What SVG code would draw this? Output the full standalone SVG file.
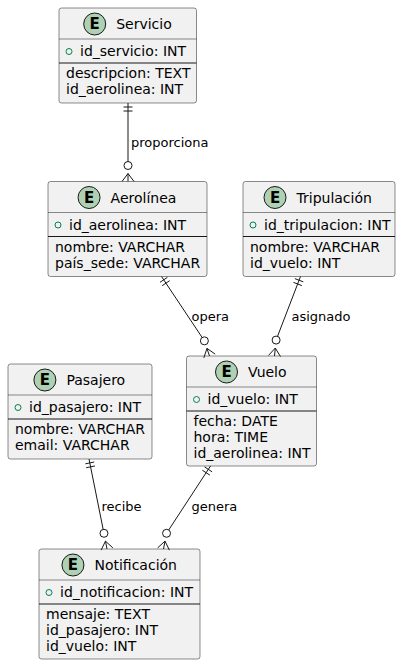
<svg xmlns="http://www.w3.org/2000/svg" width="401" height="664" viewBox="0 0 401 664">
<style>
.box{fill:#F1F1F1;stroke:#181818;stroke-width:0.5}
.ecirc{fill:#ADD1B2;stroke:#181818;stroke-width:1}
.eltr{font-family:"DejaVu Sans",sans-serif;font-size:15px;font-weight:bold;fill:#000;text-anchor:middle}
.title{font-family:"DejaVu Sans",sans-serif;font-size:14px;fill:#000}
.attr{font-family:"DejaVu Sans",sans-serif;font-size:14px;fill:#000}
.hsep{stroke:#181818;stroke-width:0.5}
.sep{stroke:#181818;stroke-width:1}
.vis{fill:none;stroke:#038048;stroke-width:1}
.lnk{stroke:#181818;stroke-width:1;fill:none}
.lbl{font-family:"DejaVu Sans",sans-serif;font-size:13px;fill:#000}
</style>
<rect width="401" height="664" fill="#FFFFFF"/>

<g id="servicio">
<rect class="box" x="59" y="8" width="137.5" height="95" rx="2.5"/>
<circle class="ecirc" cx="94.7" cy="24" r="11"/>
<text class="eltr" x="94.7" y="29.4">E</text>
<text class="title" x="116.2" y="29">Servicio</text>
<line class="hsep" x1="59" y1="39" x2="196.5" y2="39"/>
<circle class="vis" cx="69" cy="51.5" r="3"/>
<text class="attr" x="80" y="56">id_servicio: INT</text>
<line class="sep" x1="59" y1="63" x2="196.5" y2="63"/>
<text class="attr" x="66" y="78">descripcion: TEXT</text>
<text class="attr" x="66" y="94">id_aerolinea: INT</text>
</g>

<g id="aerolinea">
<rect class="box" x="48" y="181.5" width="159" height="95" rx="2.5"/>
<circle class="ecirc" cx="89.05" cy="197.5" r="11"/>
<text class="eltr" x="89.05" y="202.9">E</text>
<text class="title" x="110.55" y="202.5">Aerolínea</text>
<line class="hsep" x1="48" y1="212.5" x2="207" y2="212.5"/>
<circle class="vis" cx="58" cy="225" r="3"/>
<text class="attr" x="69" y="229.5">id_aerolinea: INT</text>
<line class="sep" x1="48" y1="236.5" x2="207" y2="236.5"/>
<text class="attr" x="55" y="251.5">nombre: VARCHAR</text>
<text class="attr" x="55" y="267.5">país_sede: VARCHAR</text>
</g>

<g id="tripulacion">
<rect class="box" x="243" y="181.5" width="152" height="95" rx="2.5"/>
<circle class="ecirc" cx="275" cy="197.5" r="11"/>
<text class="eltr" x="275" y="202.9">E</text>
<text class="title" x="296.5" y="202.5">Tripulación</text>
<line class="hsep" x1="243" y1="212.5" x2="395" y2="212.5"/>
<circle class="vis" cx="253" cy="225" r="3"/>
<text class="attr" x="264" y="229.5">id_tripulacion: INT</text>
<line class="sep" x1="243" y1="236.5" x2="395" y2="236.5"/>
<text class="attr" x="250" y="251.5">nombre: VARCHAR</text>
<text class="attr" x="250" y="267.5">id_vuelo: INT</text>
</g>

<g id="vuelo">
<rect class="box" x="186.5" y="356" width="130" height="110" rx="2.5"/>
<circle class="ecirc" cx="226.5" cy="372" r="11"/>
<text class="eltr" x="226.5" y="377.4">E</text>
<text class="title" x="248" y="377">Vuelo</text>
<line class="hsep" x1="186.5" y1="387" x2="316.5" y2="387"/>
<circle class="vis" cx="196.5" cy="399.5" r="3"/>
<text class="attr" x="207.5" y="404">id_vuelo: INT</text>
<line class="sep" x1="186.5" y1="411" x2="316.5" y2="411"/>
<text class="attr" x="193.5" y="426">fecha: DATE</text>
<text class="attr" x="193.5" y="442">hora: TIME</text>
<text class="attr" x="193.5" y="458">id_aerolinea: INT</text>
</g>

<g id="pasajero">
<rect class="box" x="8" y="364" width="144" height="95" rx="2.5"/>
<circle class="ecirc" cx="44.9" cy="380" r="11"/>
<text class="eltr" x="44.9" y="385.4">E</text>
<text class="title" x="66.4" y="385">Pasajero</text>
<line class="hsep" x1="8" y1="395" x2="152" y2="395"/>
<circle class="vis" cx="18" cy="407.5" r="3"/>
<text class="attr" x="29" y="412">id_pasajero: INT</text>
<line class="sep" x1="8" y1="419" x2="152" y2="419"/>
<text class="attr" x="15" y="434">nombre: VARCHAR</text>
<text class="attr" x="15" y="450">email: VARCHAR</text>
</g>

<g id="notificacion">
<rect class="box" x="39" y="549" width="161" height="110" rx="2.5"/>
<circle class="ecirc" cx="72.95" cy="565" r="11"/>
<text class="eltr" x="72.95" y="570.4">E</text>
<text class="title" x="94.45" y="570">Notificación</text>
<line class="hsep" x1="39" y1="580" x2="200" y2="580"/>
<circle class="vis" cx="49" cy="592.5" r="3"/>
<text class="attr" x="60" y="597">id_notificacion: INT</text>
<line class="sep" x1="39" y1="604" x2="200" y2="604"/>
<text class="attr" x="46" y="619">mensaje: TEXT</text>
<text class="attr" x="46" y="635">id_pasajero: INT</text>
<text class="attr" x="46" y="651">id_vuelo: INT</text>
</g>

<g id="connectors">
<!-- Servicio - Aerolinea -->
<g id="c-proporciona">
<line class="lnk" x1="128" y1="103" x2="128" y2="161.5"/>
<line class="lnk" x1="123.5" y1="107" x2="132.5" y2="107"/>
<line class="lnk" x1="123.5" y1="111" x2="132.5" y2="111"/>
<circle class="lnk" cx="128" cy="165.5" r="4"/>
<polyline class="lnk" points="122,181.5 128,173.5 134,181.5"/>
<line class="lnk" x1="128" y1="173.5" x2="128" y2="181.5"/>
<text class="lbl" x="131" y="147">proporciona</text>
</g>
<!-- Aerolinea - Vuelo -->
<g id="c-opera">
<line class="lnk" x1="161.5" y1="276.5" x2="202.16" y2="337.52"/>
<line class="lnk" x1="159.97" y1="282.32" x2="167.46" y2="277.33"/>
<line class="lnk" x1="162.19" y1="285.66" x2="169.68" y2="280.66"/>
<circle class="lnk" cx="204.38" cy="340.85" r="4"/>
<polyline class="lnk" points="215.18,354.08 206.94,348.42 203.82,357.92"/>
<line class="lnk" x1="206.94" y1="348.42" x2="209.5" y2="356"/>
<text class="lbl" x="191.5" y="320.5">opera</text>
</g>
<!-- Tripulacion - Vuelo -->
<g id="c-asignado">
<line class="lnk" x1="300.5" y1="276.5" x2="277.53" y2="336.35"/>
<line class="lnk" x1="294.87" y1="278.62" x2="303.27" y2="281.84"/>
<line class="lnk" x1="293.43" y1="282.36" x2="301.83" y2="285.58"/>
<circle class="lnk" cx="276.1" cy="340.08" r="4"/>
<polyline class="lnk" points="280.47,356.6 275.3,348.04 268.53,355.4"/>
<line class="lnk" x1="275.3" y1="348.04" x2="274.5" y2="356"/>
<text class="lbl" x="291.5" y="320.5">asignado</text>
</g>
<!-- Pasajero - Notificacion -->
<g id="c-recibe">
<line class="lnk" x1="89" y1="459" x2="103.17" y2="529.37"/>
<line class="lnk" x1="85.38" y1="463.81" x2="94.2" y2="462.03"/>
<line class="lnk" x1="86.17" y1="467.73" x2="94.99" y2="465.95"/>
<circle class="lnk" cx="103.96" cy="533.29" r="4"/>
<polyline class="lnk" points="112.89,547.86 105.48,541.14 101.11,550.14"/>
<line class="lnk" x1="105.48" y1="541.14" x2="107" y2="549"/>
<text class="lbl" x="101.5" y="511">recibe</text>
</g>
<!-- Vuelo - Notificacion -->
<g id="c-genera">
<line class="lnk" x1="210.5" y1="466" x2="168.73" y2="529.94"/>
<line class="lnk" x1="204.54" y1="466.89" x2="212.08" y2="471.81"/>
<line class="lnk" x1="202.36" y1="470.24" x2="209.9" y2="475.16"/>
<circle class="lnk" cx="166.54" cy="533.29" r="4"/>
<polyline class="lnk" points="169.39,550.14 165.02,541.14 157.61,547.86"/>
<line class="lnk" x1="165.02" y1="541.14" x2="163.5" y2="549"/>
<text class="lbl" x="191.5" y="511">genera</text>
</g>
</g>
</svg>
